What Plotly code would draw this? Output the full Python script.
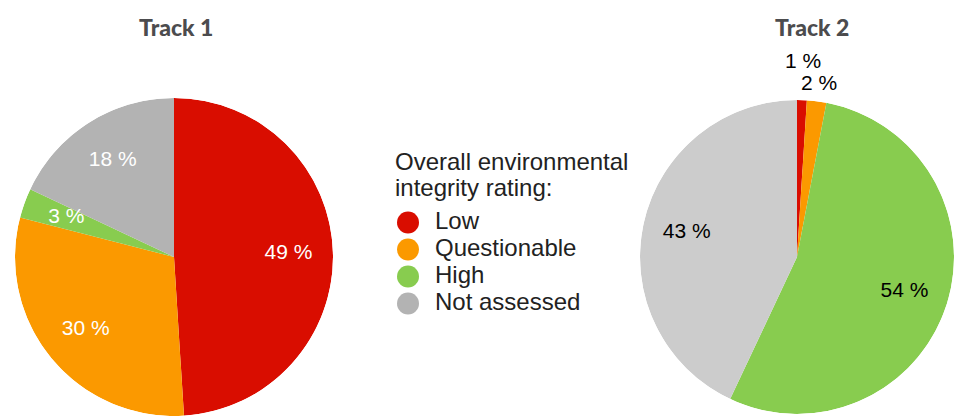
import math
import plotly.graph_objects as go

# Shares of each integrity rating, in percent
categories = ["Low", "Questionable", "High", "Not assessed"]
track1_share = [49, 30, 3, 18]
track2_share = [1, 2, 54, 43]
track_titles = ["Track 1", "Track 2"]
key_title_lines = ["Overall environmental", "integrity rating:"]

colors_track1 = ["#d90d00", "#fb9900", "#88cc4f", "#b3b3b3"]
colors_track2 = ["#d90d00", "#fb9900", "#88cc4f", "#cccccc"]

# Radial position of each slice label (fraction of the pie radius)
label_radius_track1 = [0.72, 0.72, 0.72, 0.72]
label_radius_track2 = [1.25, 1.12, 0.72, 0.72]

W, H = 954, 416
BODY_FONT = "Liberation Sans, Arial, Helvetica, sans-serif"
TITLE_FONT = "Lato, sans-serif"

# Pie geometry in pixels: centre x, centre y (from top), radius
PIE1 = (174, 257, 159)
PIE2 = (797, 257, 157)


def fx(px):
    """Horizontal pixel position -> paper fraction."""
    return px / W


def fy(px_from_top):
    """Vertical pixel position (from top) -> paper fraction."""
    return 1 - px_from_top / H


def pie_domain(geom):
    cx, cy, r = geom
    return dict(x=[fx(cx - r), min(1.0, fx(cx + r))], y=[max(0.0, fy(cy + r)), fy(cy - r)])


def slice_angles(shares):
    """Centre angle and angular width (degrees, clockwise from 12 o'clock)."""
    total = sum(shares)
    mids, widths, start = [], [], 0.0
    for v in shares:
        w = v / total * 360.0
        mids.append(start + w / 2)
        widths.append(w)
        start += w
    return mids, widths


fig = go.Figure()
annotations = []


def add_pie(shares, colors, label_r, text_color, subplot, geom):
    mids, widths = slice_angles(shares)
    fig.add_trace(go.Barpolar(
        r=[1] * len(shares), theta=mids, width=widths, base=0,
        marker=dict(color=colors, line=dict(width=0)),
        customdata=categories, subplot=subplot,
        hovertemplate="%{customdata}<extra></extra>", showlegend=False,
    ))
    labels = [f"{v} %" for v in shares]
    inside = [i for i, rr in enumerate(label_r) if rr <= 1]
    fig.add_trace(go.Scatterpolar(
        r=[label_r[i] for i in inside], theta=[mids[i] for i in inside], mode="text",
        text=[labels[i] for i in inside],
        textfont=dict(family=BODY_FONT, size=21, color=text_color),
        cliponaxis=False, subplot=subplot, hoverinfo="skip", showlegend=False,
    ))
    # labels of thin slices sit outside the rim
    cx, cy, rad = geom
    for i, rr in enumerate(label_r):
        if rr <= 1:
            continue
        a = math.radians(mids[i])
        annotations.append(dict(
            text=labels[i], xref="paper", yref="paper",
            x=fx(cx + rr * rad * math.sin(a)), y=fy(cy - rr * rad * math.cos(a)),
            xanchor="center", yanchor="middle", showarrow=False,
            font=dict(family=BODY_FONT, size=21, color=text_color),
        ))


add_pie(track1_share, colors_track1, label_radius_track1, "white", "polar", PIE1)
add_pie(track2_share, colors_track2, label_radius_track2, "black", "polar2", PIE2)

# Colour key: round swatches plus their category names
fig.add_trace(go.Scatter(
    x=[0] * len(categories), y=categories, mode="markers",
    marker=dict(size=22, color=colors_track1, line=dict(width=0)),
    hoverinfo="skip", showlegend=False,
))
fig.add_trace(go.Scatter(
    x=[1.35] * len(categories), y=categories, mode="text",
    text=categories, textposition="middle right",
    textfont=dict(family=BODY_FONT, size=24, color="#222222"),
    hoverinfo="skip", showlegend=False,
))

for title, cx in zip(track_titles, [176, 812]):
    annotations.append(dict(
        text=title, x=fx(cx), y=fy(27), xref="paper", yref="paper",
        xanchor="center", yanchor="middle", showarrow=False,
        font=dict(family=TITLE_FONT, size=23, color="#4c4c4e", weight=900),
    ))
for line, cy in zip(key_title_lines, [161, 187]):
    annotations.append(dict(
        text=line, x=fx(393), y=fy(cy), xref="paper", yref="paper",
        xanchor="left", yanchor="middle", showarrow=False,
        font=dict(family=BODY_FONT, size=24, color="#222222"),
    ))

polar_common = dict(
    bgcolor="rgba(0,0,0,0)",
    angularaxis=dict(rotation=90, direction="clockwise", visible=False,
                     showgrid=False, showline=False),
    radialaxis=dict(range=[0, 1], visible=False, showgrid=False, showline=False),
    hole=0,
)

fig.update_layout(
    width=W, height=H,
    margin=dict(l=0, r=0, t=0, b=0),
    paper_bgcolor="white", plot_bgcolor="white",
    polar=dict(domain=pie_domain(PIE1), **polar_common),
    polar2=dict(domain=pie_domain(PIE2), **polar_common),
    bargap=0,
    xaxis=dict(domain=[fx(388), fx(700)], range=[-1, 14.6], visible=False, fixedrange=True),
    yaxis=dict(domain=[fy(317), fy(209)], type="category", range=[3.5, -0.5],
               visible=False, fixedrange=True),
    annotations=annotations,
)

fig.write_html("out.html")
